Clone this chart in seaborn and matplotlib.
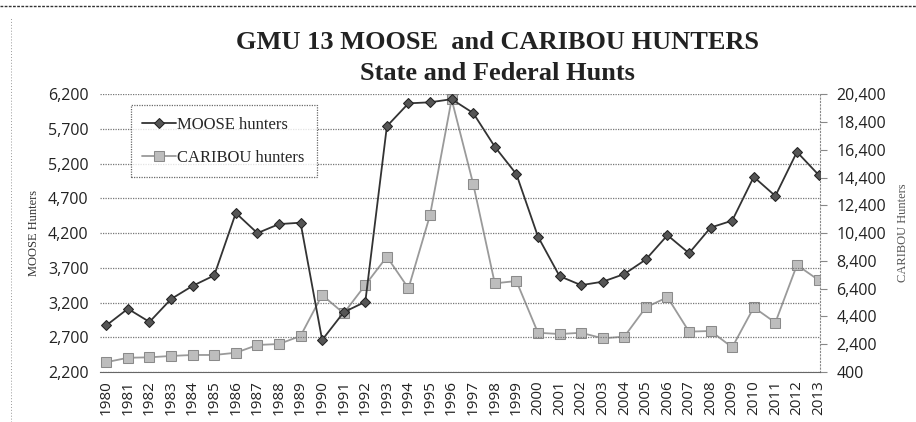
import pandas as pd
import matplotlib.pyplot as plt
import seaborn as sns
from matplotlib.lines import Line2D
from matplotlib.ticker import FuncFormatter

# Data
years = list(range(1980, 2014))
moose_hunters = [2870, 3110, 2920, 3250, 3440, 3590, 4490, 4200, 4330, 4350,
                 2660, 3060, 3210, 5740, 6070, 6085, 6130, 5930, 5445, 5050,
                 4150, 3580, 3450, 3500, 3610, 3820, 4170, 3910, 4280, 4380,
                 5010, 4735, 5370, 5040]
caribou_hunters = [1100, 1420, 1450, 1550, 1620, 1620, 1780, 2340, 2410, 2990,
                   5940, 4620, 6660, 8700, 6420, 11700, 20040, 13940, 6780, 6950,
                   3220, 3130, 3220, 2820, 2940, 5050, 5780, 3300, 3350, 2170,
                   5050, 3950, 8100, 7020]

df = pd.DataFrame({'year': years, 'moose': moose_hunters, 'caribou': caribou_hunters})

sns.set_style('white')
plt.rcParams['font.family'] = ['Liberation Serif', 'DejaVu Serif']

fig = plt.figure(figsize=(9.16, 4.22), dpi=100)
ax = fig.add_axes([0.109, 0.1187, 0.786, 0.6578])
ax2 = ax.twinx()

sns.lineplot(data=df, x='year', y='moose', ax=ax, color='#333333', linewidth=1.3,
             marker='D', markersize=5.5, markerfacecolor='#555555', markeredgecolor='#222222',
             label='MOOSE hunters', legend=False)
sns.lineplot(data=df, x='year', y='caribou', ax=ax2, color='#9a9a9a', linewidth=1.3,
             marker='s', markersize=6.5, markerfacecolor='#bdbdbd', markeredgecolor='#8a8a8a',
             label='CARIBOU hunters', legend=False)

ax.set_xlim(years[0] - 0.3, years[-1] + 0.06)
ax.set_ylim(2200, 6200)
ax2.set_ylim(400, 20400)
ax.set_yticks(range(2200, 6201, 500))
ax2.set_yticks(range(400, 20401, 2000))
ax.set_xticks(years)
ax.set_xticklabels([str(y) for y in years], rotation=90, fontsize=11, family='Open Sans')

fmt = FuncFormatter(lambda v, p: f'{int(v):,}')
ax.yaxis.set_major_formatter(fmt)
ax2.yaxis.set_major_formatter(fmt)
for lab in ax.get_yticklabels() + ax2.get_yticklabels():
    lab.set_family('Open Sans')
    lab.set_fontsize(11.5)
    lab.set_color('#222222')

ax.grid(axis='y', color='#777777', linestyle=(0, (1, 1)), linewidth=0.9)
ax.set_axisbelow(True)
for a in (ax, ax2):
    for s in a.spines.values():
        s.set_visible(False)
ax2.spines['right'].set_visible(True)
ax2.spines['right'].set_linestyle((0, (1, 2)))
ax2.spines['right'].set_color('#888888')
ax2.spines['right'].set_linewidth(0.8)
ax.spines['bottom'].set_visible(True)
ax.spines['bottom'].set_linestyle((0, (1, 1)))
ax.spines['bottom'].set_color('#666666')

ax.tick_params(axis='y', length=0, pad=8)
ax.tick_params(axis='x', length=3, color='#999999', pad=3, labelcolor='#222222')
ax2.tick_params(axis='y', length=5, color='#888888', pad=7, direction='out', right=True)

ax.set_xlabel('')
ax.set_ylabel('MOOSE Hunters', fontsize=9, labelpad=6, color='#333333')
ax2.set_ylabel('CARIBOU Hunters', fontsize=9, labelpad=8, color='#555555', rotation=90)

fig.text(0.543, 0.90, 'GMU 13 MOOSE  and CARIBOU HUNTERS', ha='center', va='center',
         fontsize=19, fontweight='bold', color='#222222')
fig.text(0.543, 0.826, 'State and Federal Hunts', ha='center', va='center',
         fontsize=19, fontweight='bold', color='#222222')

handles = [ax.get_lines()[0], ax2.get_lines()[0]]
leg = ax.legend(handles, ['MOOSE hunters', 'CARIBOU hunters'], loc='upper left',
                bbox_to_anchor=(0.043, 0.96), fontsize=12, frameon=True, fancybox=False,
                handlelength=2.0, handletextpad=0.1, labelspacing=1.0,
                borderpad=0.7, borderaxespad=0)
leg.get_frame().set_edgecolor('#444444')
leg.get_frame().set_linestyle((0, (1, 1)))
leg.get_frame().set_linewidth(0.9)
leg.set_zorder(10)
ax.set_zorder(ax2.get_zorder() + 1)
ax.patch.set_visible(False)

# scanned chart border
fig.add_artist(Line2D([0, 1], [0.985, 0.985], transform=fig.transFigure,
                      color='#333333', linewidth=1.0, linestyle=(0, (2, 1))))
fig.add_artist(Line2D([0.012, 0.012], [0.0, 0.96], transform=fig.transFigure,
                      color='#999999', linewidth=0.7, linestyle=(0, (1, 2))))

fig.savefig('out.png', dpi=100, facecolor='white')
